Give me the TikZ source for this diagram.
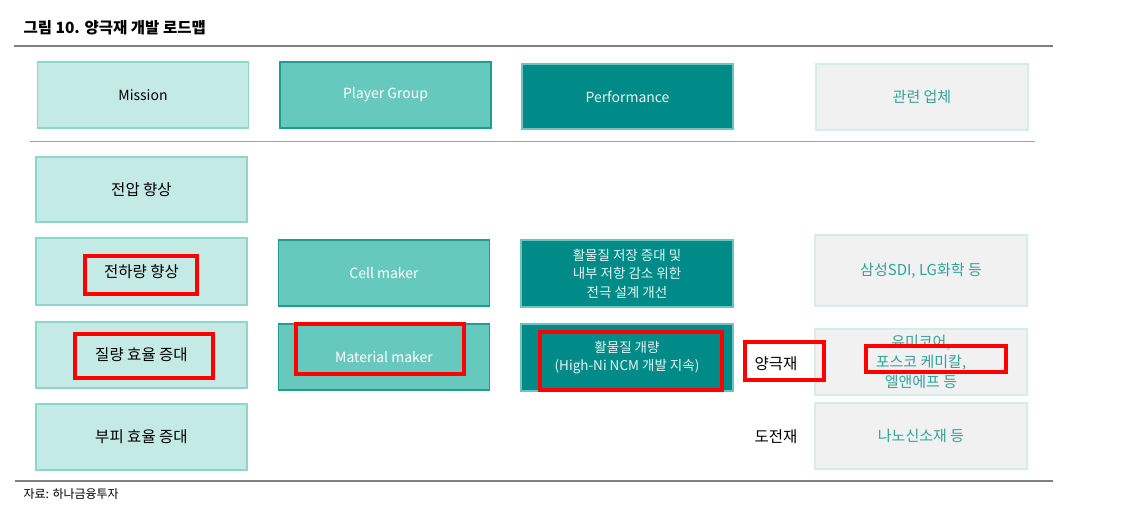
\documentclass[tikz,border=0pt]{standalone}
\usepackage{fontspec}
\setmainfont{Noto Sans CJK KR}
\usepackage{xcolor}
\usepackage{tikz}
\usetikzlibrary{positioning}
\definecolor{missionfill}{HTML}{C3EAE5}
\definecolor{missionline}{HTML}{8ED5CB}
\definecolor{playerfill}{HTML}{66C9BD}
\definecolor{playerline}{HTML}{1D9E93}
\definecolor{perffill}{HTML}{008B88}
\definecolor{perfline}{HTML}{6CC5BA}
\definecolor{firmfill}{HTML}{F1F1F1}
\definecolor{firmline}{HTML}{D3EEEA}
\definecolor{firmtext}{HTML}{2FA39B}
\definecolor{perftext}{HTML}{E6F6F3}
\definecolor{rulegray}{HTML}{808080}
\newcommand{\fs}[2]{\fontsize{#1}{#2}\selectfont}

\begin{document}
\begin{tikzpicture}[x=1pt,y=-1pt,font=\fs{14}{18},
  box/.style={draw,line width=1.2pt,minimum width=211pt,minimum height=66pt,inner sep=0pt,align=center},
  missionbox/.style={box,fill=missionfill,draw=missionline,text=black,font=\fs{15.5}{18}},
  playerbox/.style={box,fill=playerfill,draw=playerline,text=white},
  perfbox/.style={box,fill=perffill,draw=perfline,text=perftext,font=\fs{13.5}{18.5}},
  firmbox/.style={box,fill=firmfill,draw=firmline,text=firmtext,font=\fs{15}{20}},
  rule/.style={rulegray,line width=1.3pt},
  redmark/.style={draw=red,line width=3.4pt}]
  \useasboundingbox[fill=white] (0,0) rectangle (1123,507);
  % title and rules
  \node[anchor=west,font=\fs{15.5}{18}\bfseries] (title) at (20,28) {그림 10. 양극재 개발 로드맵};
  \draw[rule] (14,46) -- (1053,46);
  \draw[rulegray!75,line width=1.6pt] (30,141.5) -- (1035,141.5);
  \draw[rule] (15,481) -- (1053,481);
  % header row
  \node[missionbox,font=\fs{14}{18}] (hmission) at (143,95) {Mission};
  \node[playerbox] (hplayer) at (385.5,95) {Player Group};
  \node[perfbox,minimum height=65pt,font=\fs{14}{18}] (hperf) at (627.5,96.5) {Performance};
  \node[firmbox,minimum width=212pt] (hfirm) at (922,97) {관련 업체};
  % mission column
  \node[missionbox,minimum height=65pt] (voltage) at (141.5,189.5) {전압 향상};
  \node[missionbox,minimum height=67pt] (charge) at (141.5,271.5) {전하량 향상};
  \node[missionbox] (mass) at (141.5,355) {질량 효율 증대};
  \node[missionbox] (volume) at (141.5,437) {부피 효율 증대};
  % player column
  \node[playerbox] (cellmaker) at (384,273) {Cell maker};
  \node[playerbox] (matmaker) at (384,357) {Material maker};
  % performance column
  \node[perfbox,minimum width=212pt,minimum height=67pt] (design) at (627,273.5)
    {활물질 저장 증대 및\\내부 저항 감소 위한\\전극 설계 개선};
  \node[perfbox,minimum width=212pt,minimum height=67pt] (improve) at (627,357.5)
    {활물질 개량\\(High-Ni NCM 개발 지속)};
  % related firms
  \node[firmbox,minimum width=212pt,minimum height=71pt] (cellfirm) at (921,270.5) {삼성SDI, LG화학 등};
  \node[firmbox,minimum width=212pt] (cathfirm) at (921,362) {유미코어,\\포스코 케미칼,\\엘앤에프 등};
  \node[firmbox,minimum width=212pt] (condfirm) at (921,436) {나노신소재 등};
  \node[font=\fs{15.5}{18}] (cathode) at (776,364) {양극재};
  \node[font=\fs{15.5}{18}] (conductor) at (776,437) {도전재};
  % source
  \node[anchor=west,font=\fs{12}{14}] (source) at (20,494) {자료: 하나금융투자};
  % highlights
  \draw[redmark] (85,256) rectangle (197,294);
  \draw[redmark] (75,334) rectangle (213,378);
  \draw[redmark] (296,324) rectangle (464,374);
  \draw[redmark] (540,332) rectangle (722,390);
  \draw[redmark] (745,342) rectangle (824,380);
  \draw[redmark] (866,346) rectangle (1006,372);
\end{tikzpicture}
\end{document}
